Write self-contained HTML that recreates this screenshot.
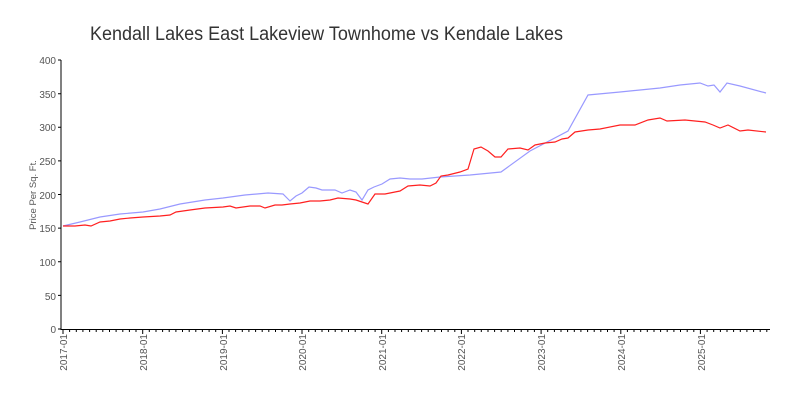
<!DOCTYPE html>
<html><head><meta charset="utf-8"><style>
html,body{margin:0;padding:0;background:#fff;}
svg{display:block;font-family:"Liberation Sans",sans-serif;}
</style></head><body>
<svg width="800" height="400" viewBox="0 0 800 400">
<text x="90" y="40" font-size="19" fill="#333" textLength="473" lengthAdjust="spacingAndGlyphs">Kendall Lakes East Lakeview Townhome vs Kendale Lakes</text>
<g stroke="#000" stroke-width="1">
<line x1="61" y1="60" x2="61" y2="330"/>
<line x1="61" y1="329.5" x2="770" y2="329.5"/>
</g>
<g font-size="10" fill="#555" text-anchor="end">
<text x="56" y="333">0</text><text x="56" y="300">50</text><text x="56" y="266">100</text>
<text x="56" y="232">150</text><text x="56" y="199">200</text><text x="56" y="165">250</text>
<text x="56" y="131">300</text><text x="56" y="98">350</text><text x="56" y="64">400</text>
</g>
<g stroke="#000"><path d="M58 329H61M58 295.4H61M58 261.8H61M58 228.1H61M58 194.5H61M58 160.9H61M58 127.3H61M58 93.7H61M58 60H61"/></g>
<g id="xt" stroke="#000"></g>
<text transform="translate(36,195) rotate(-90)" font-size="9.5" fill="#555" text-anchor="middle">Price Per Sq. Ft.</text>
<g font-size="10" fill="#555" text-anchor="end">
<text transform="translate(67,334) rotate(-90)">2017-01</text>
<text transform="translate(147,334) rotate(-90)">2018-01</text>
<text transform="translate(227,334) rotate(-90)">2019-01</text>
<text transform="translate(306,334) rotate(-90)">2020-01</text>
<text transform="translate(386,334) rotate(-90)">2021-01</text>
<text transform="translate(465,334) rotate(-90)">2022-01</text>
<text transform="translate(545,334) rotate(-90)">2023-01</text>
<text transform="translate(625,334) rotate(-90)">2024-01</text>
<text transform="translate(705,334) rotate(-90)">2025-01</text>
</g>
<polyline fill="none" stroke="#9999ff" stroke-width="1.2" points="63,226 80,222 100,217 120,214 143,212 160,209 180,204 205,200 223,198 245,195 268,193 283,194 290,201 296,196 302,193 309,187 316,188 322,190 335,190 342,193 350,190 356,192 362,200 368,190 374,187 382,184 390,179 400,178 410,179 422,179 440,177 470,175 501,172 530,151 568,131 588,95 620,92 660,88 680,85 700,83 708,86 714,85 720,92 727,83 740,86 766,93"/>
<polyline fill="none" stroke="#ff2020" stroke-width="1.2" points="63,226 75,226 85,225 91,226 100,222 110,221 120,219 130,218 143,217 160,216 170,215 176,212 190,210 205,208 223,207 230,206 236,208 250,206 260,206 265,208 275,205 282,205 290,204 300,203 310,201 320,201 330,200 338,198 350,199 356,200 362,202 368,204 375,194 385,194 395,192 400,191 408,186 420,185 430,186 436,183 441,176 448,175 460,172 468,169 474,149 481,147 488,151 495,157 501,157 508,149 520,148 528,150 535,145 545,143 555,142 562,139 568,138 575,132 588,130 600,129 620,125 635,125 648,120 660,118 667,121 685,120 705,122 713,125 720,128 728,125 740,131 748,130 766,132"/>
<script>
var g=document.getElementById('xt'),d='';
for(var i=0;i<=106;i++){var x=63+i*6.64;var big=(i%12==0);d+='M'+x.toFixed(1)+' 330V'+(big?334:332);}
var p=document.createElementNS('http://www.w3.org/2000/svg','path');p.setAttribute('d',d);g.appendChild(p);
</script>
</svg>
</body></html>
